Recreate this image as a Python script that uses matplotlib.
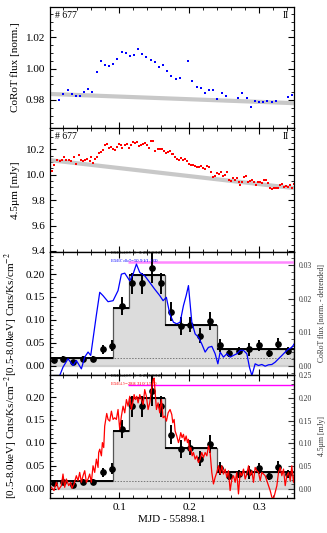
import matplotlib
matplotlib.use('Agg')
import matplotlib.pyplot as plt
from matplotlib.ticker import MultipleLocator, AutoMinorLocator

plt.rcParams['font.family'] = ['Liberation Serif', 'DejaVu Serif']
plt.rcParams['mathtext.fontset'] = 'stix'

# --- CoRoT optical light curve (panel 1) ---
corot_t = [0.0136, 0.0198, 0.0260, 0.0317, 0.0379, 0.0436, 0.0499, 0.0556, 0.0613, 0.0675,
           0.0733, 0.0795, 0.0852, 0.0914, 0.0971, 0.1033, 0.1091, 0.1153, 0.1210, 0.1272,
           0.1330, 0.1387, 0.1449, 0.1506, 0.1568, 0.1626, 0.1688, 0.1745, 0.1807, 0.1869,
           0.1989, 0.2046, 0.2108, 0.2165, 0.2223, 0.2285, 0.2347, 0.2404, 0.2466, 0.2523,
           0.2700, 0.2762, 0.2824, 0.2882, 0.2944, 0.3001, 0.3063, 0.3120, 0.3178, 0.3240,
           0.3416, 0.3478]
corot_flux = [0.9800, 0.9836, 0.9862, 0.9840, 0.9826, 0.9823, 0.9853, 0.9872, 0.9851, 0.9977,
              1.0051, 1.0026, 1.0017, 1.0028, 1.0060, 1.0104, 1.0102, 1.0080, 1.0087, 1.0128,
              1.0094, 1.0072, 1.0055, 1.0040, 1.0013, 1.0026, 0.9985, 0.9953, 0.9936, 0.9938,
              1.0051, 0.9919, 0.9885, 0.9877, 0.9843, 0.9862, 0.9862, 0.9806, 0.9843, 0.9828,
              0.9815, 0.9847, 0.9809, 0.9753, 0.9796, 0.9789, 0.9785, 0.9791, 0.9787, 0.9791,
              0.9821, 0.9834]
corot_trend_t = [0.0007, 0.35]
corot_trend = [0.9838, 0.9779]

# --- Spitzer 4.5 micron light curve (panel 2) ---
irac_t = [0.0002, 0.0036, 0.0064, 0.0112, 0.0146, 0.0179, 0.0208, 0.0241, 0.0275, 0.0313,
          0.0351, 0.0384, 0.0418, 0.0447, 0.0480, 0.0513, 0.0542, 0.0575, 0.0590, 0.0623,
          0.0647, 0.0685, 0.0704, 0.0733, 0.0766, 0.0790, 0.0819, 0.0848, 0.0876, 0.0905,
          0.0934, 0.0962, 0.0991, 0.1020, 0.1039, 0.1077, 0.1106, 0.1134, 0.1163, 0.1192,
          0.1220, 0.1249, 0.1278, 0.1306, 0.1335, 0.1363, 0.1392, 0.1421, 0.1459, 0.1488,
          0.1516, 0.1554, 0.1583, 0.1612, 0.1640, 0.1669, 0.1698, 0.1726, 0.1755,
          0.1765, 0.1793, 0.1822, 0.1851, 0.1879, 0.1908, 0.1937, 0.1965, 0.1994,
          0.2022, 0.2051, 0.2080, 0.2108, 0.2137, 0.2166, 0.2194, 0.2223, 0.2252, 0.2280,
          0.2309, 0.2338, 0.2366, 0.2395, 0.2424, 0.2452, 0.2481, 0.2510, 0.2538, 0.2567,
          0.2596, 0.2624, 0.2653, 0.2681, 0.2710, 0.2729, 0.2758, 0.2787, 0.2815, 0.2844,
          0.2872, 0.2901, 0.2930, 0.2958, 0.2987, 0.3016, 0.3044, 0.3073, 0.3102, 0.3130,
          0.3159, 0.3188, 0.3216, 0.3245, 0.3274, 0.3302, 0.3331, 0.3360, 0.3388, 0.3417,
          0.3446, 0.3474, 0.3503]
irac_flux = [10.049, 10.029, 10.073, 10.114, 10.106, 10.114, 10.137, 10.114, 10.114, 10.106,
             10.137, 10.088, 10.153, 10.119, 10.106, 10.114, 10.124, 10.106, 10.137, 10.093,
             10.127, 10.140, 10.168, 10.176, 10.197, 10.231, 10.246, 10.210, 10.215, 10.205,
             10.197, 10.215, 10.241, 10.231, 10.210, 10.236, 10.241, 10.210, 10.231, 10.256,
             10.249, 10.256, 10.223, 10.236, 10.246, 10.251, 10.231, 10.210, 10.267, 10.262,
             10.189, 10.205, 10.205, 10.199, 10.184, 10.174, 10.179, 10.184, 10.163,
             10.163, 10.140, 10.127, 10.119, 10.132, 10.114, 10.127, 10.106, 10.085,
             10.075, 10.080, 10.067, 10.060, 10.060, 10.070, 10.054, 10.049, 10.067, 10.060,
             10.023, 9.982, 9.992, 10.013, 10.003, 10.018, 9.987, 9.997, 10.018, 9.961,
             9.951, 9.971, 9.956, 9.977, 9.946, 9.920, 9.946, 9.982, 9.987, 9.940,
             9.951, 9.961, 9.946, 9.920, 9.946, 9.940, 9.935, 9.961, 9.956, 9.935,
             9.899, 9.889, 9.894, 9.899, 9.894, 9.920, 9.930, 9.904, 9.909, 9.904,
             9.920, 9.899, 9.925]
irac_trend_t = [0.0007, 0.35]
irac_trend = [10.115, 9.895]

# --- X-ray light curve (panels 3, 4) ---
xray_t = [0.0064, 0.0198, 0.0341, 0.0484, 0.0623, 0.0761, 0.0900, 0.1043, 0.1181, 0.1320,
          0.1463, 0.1602, 0.1740, 0.1879, 0.2017, 0.2156, 0.2299, 0.2437, 0.2576, 0.2714,
          0.2853, 0.2996, 0.3135, 0.3273, 0.3412]
xray_rate = [0.0116, 0.0153, 0.0073, 0.0153, 0.0153, 0.0364, 0.0436, 0.131, 0.180, 0.180,
             0.213, 0.180, 0.118, 0.087, 0.090, 0.066, 0.0975, 0.0444, 0.0284, 0.0327,
             0.0356, 0.0444, 0.0284, 0.048, 0.0327]
xray_err = [0.006, 0.006, 0.005, 0.006, 0.006, 0.010, 0.012, 0.020, 0.023, 0.023,
            0.032, 0.023, 0.021, 0.019, 0.017, 0.016, 0.020, 0.014, 0.009, 0.009,
            0.014, 0.012, 0.009, 0.012, 0.009]
block_edges = [0.0007, 0.0914, 0.1143, 0.1650, 0.2404, 0.35]
block_rates = [0.0167, 0.1265, 0.1970, 0.0887, 0.0356]
quiescent = 0.018
flare_level = 0.2265
flare_start = 0.112

# detrended CoRoT (panel 3, right axis)
corot_det_t = [0.0146, 0.0193, 0.0265, 0.0337, 0.0384, 0.0456, 0.0504, 0.0552, 0.0590, 0.0623,
               0.0670, 0.0719, 0.0766, 0.0838, 0.0910, 0.0981, 0.1029, 0.1077, 0.1149, 0.1196,
               0.1244, 0.1292, 0.1364, 0.1436, 0.1507, 0.1579, 0.1626, 0.1673, 0.1722,
               0.1774, 0.1822, 0.1870, 0.1917, 0.1956, 0.1989, 0.2037, 0.2085, 0.2132, 0.2180,
               0.2228, 0.2275, 0.2324, 0.2371, 0.2410, 0.2443, 0.2490, 0.2539, 0.2586, 0.2633,
               0.2682, 0.2729, 0.2776, 0.2825, 0.2862, 0.2897, 0.2944, 0.2991, 0.3040, 0.3087,
               0.3135, 0.3183, 0.3231, 0.3278, 0.3327, 0.3374, 0.3421, 0.3470, 0.3517]
corot_det = [-0.0029, -0.0004, 0.0021, 0.0001, 0.0016, -0.0009, 0.0026, 0.0041, 0.0031, 0.0080,
             0.0150, 0.0219, 0.0209, 0.0191, 0.0194, 0.0224, 0.0273, 0.0276, 0.0253, 0.0273,
             0.0303, 0.0278, 0.0268, 0.0248, 0.0228, 0.0209, 0.0194, 0.0204, 0.0154,
             0.0130, 0.0125, 0.0130, 0.0179, 0.0209, 0.0239, 0.0130, 0.0095, 0.0085, 0.0065,
             0.0041, 0.0055, 0.0058, 0.0036, 0.0006, 0.0041, 0.0026, 0.0036, 0.0026, 0.0031,
             0.0036, 0.0046, 0.0046, 0.0036, -0.0004, -0.0029, 0.0006, 0.0001, 0.0004, -0.0001,
             0.0003, 0.0004, 0.0011, 0.0021, 0.0031, 0.0041, 0.0050, 0.0055, 0.0070]

# detrended 4.5 micron (panel 4, right axis)
irac_det_t = [0.0026, 0.0064, 0.0098, 0.0131, 0.0170, 0.0193, 0.0217, 0.0241, 0.0275, 0.0303,
              0.0322, 0.0351, 0.0384, 0.0408, 0.0432, 0.0456, 0.0480, 0.0504, 0.0528, 0.0552,
              0.0575, 0.0599, 0.0623, 0.0647, 0.0671, 0.0695, 0.0704, 0.0719, 0.0743, 0.0757,
              0.0776, 0.0790, 0.0805, 0.0819, 0.0838, 0.0862, 0.0886, 0.0910, 0.0934, 0.0957,
              0.0981, 0.1005, 0.1029, 0.1053, 0.1077, 0.1101, 0.1125, 0.1149, 0.1172, 0.1196,
              0.1211, 0.1230, 0.1249, 0.1268, 0.1292, 0.1316, 0.1340, 0.1363, 0.1387, 0.1411,
              0.1435, 0.1459, 0.1483, 0.1497, 0.1516, 0.1531, 0.1554, 0.1578, 0.1602, 0.1626,
              0.1650, 0.1674, 0.1698,
              0.1726, 0.1750, 0.1765, 0.1784, 0.1798, 0.1822, 0.1846, 0.1860, 0.1879, 0.1898,
              0.1917, 0.1937, 0.1956, 0.1975, 0.1989, 0.2003, 0.2022, 0.2042, 0.2061, 0.2085,
              0.2108, 0.2132, 0.2156, 0.2180, 0.2204, 0.2228, 0.2252, 0.2276, 0.2299, 0.2323,
              0.2347, 0.2371, 0.2395, 0.2419, 0.2443, 0.2467, 0.2490, 0.2514, 0.2538, 0.2562,
              0.2586, 0.2610, 0.2634, 0.2658, 0.2681, 0.2705, 0.2729, 0.2753, 0.2777, 0.2801,
              0.2825, 0.2849, 0.2872, 0.2896, 0.2920, 0.2944, 0.2968, 0.2992, 0.3016, 0.3040,
              0.3063, 0.3087, 0.3111, 0.3135, 0.3159, 0.3183, 0.3207, 0.3231, 0.3255, 0.3278,
              0.3302, 0.3326, 0.3350, 0.3374, 0.3398, 0.3422, 0.3446, 0.3469, 0.3493, 0.3517]
irac_det = [0.0036, -0.0037, 0.0145, -0.0015, 0.0072, 0.0327, 0.0036, 0.0218, 0.0072, 0.0145,
            0.0014, 0.0109, 0.0290, 0.0181, 0.0363, 0.0145, 0.0290, 0.0400, 0.0145, 0.0218,
            0.0327, 0.0145, 0.0509, 0.0363, 0.0654, 0.0472, 0.0800, 0.0873, 0.0727, 0.1018,
            0.0909, 0.1382, 0.1528, 0.1659, 0.1528, 0.1491, 0.1710, 0.1528, 0.1564, 0.1528,
            0.1746, 0.1309, 0.1600, 0.1819, 0.1673, 0.1964, 0.1819, 0.2037, 0.1746, 0.1928,
            0.2074, 0.1964, 0.2037, 0.1892, 0.2074, 0.1964, 0.1855, 0.2183, 0.2037, 0.1746,
            0.1892, 0.2183, 0.2401, 0.2437, 0.2037, 0.1746, 0.1892, 0.1673, 0.1964, 0.1564,
            0.1600, 0.1491, 0.1673,
            0.1746, 0.1637, 0.1455, 0.1528, 0.1273, 0.1164, 0.1018, 0.1091, 0.1237, 0.1127,
            0.1200, 0.1055, 0.1164, 0.1018, 0.1091, 0.0836, 0.0909, 0.0727, 0.0800, 0.0654,
            0.0727, 0.0581, 0.0654, 0.0800, 0.0691, 0.0800, 0.0727, 0.0945, 0.0800, 0.0363,
            0.0109, 0.0254, 0.0363, 0.0509, 0.0327, 0.0509, 0.0327, 0.0436, 0.0254, 0.0400,
            -0.0037, 0.0218, 0.0290, 0.0145, 0.0363, -0.0110, 0.0363, 0.0290, 0.0436, 0.0218,
            0.0327, 0.0509, 0.0290, 0.0400, 0.0145, 0.0472, 0.0400, 0.0363, 0.0181, 0.0363,
            0.0327, 0.0290, 0.0181, 0.0072, -0.0037, -0.0183, -0.0219, -0.0074, 0.0072, 0.0363,
            0.0472, 0.0290, 0.0436, 0.0072, 0.0290, 0.0363, 0.0181, 0.0509, 0.0145, 0.0400]

XLIM = (0.0007, 0.35)
W, H = 327, 533


def style_axis(ax, right_ticks=True):
    ax.set_xlim(*XLIM)
    ax.xaxis.set_major_locator(MultipleLocator(0.1))
    ax.xaxis.set_minor_locator(MultipleLocator(0.02))
    ax.tick_params(which='both', direction='in', top=True, right=right_ticks, labelsize=8)
    ax.tick_params(which='major', length=4, width=0.8)
    ax.tick_params(which='minor', length=2, width=0.6)
    for s in ax.spines.values():
        s.set_linewidth(0.9)


def panel(top, bottom):
    return fig.add_axes([50 / W, 1 - bottom / H, 244 / W, (bottom - top) / H])


fig = plt.figure(figsize=(3.27, 5.33), dpi=100)

# panel 1
ax1 = panel(7, 128)
style_axis(ax1)
ax1.plot(corot_trend_t, corot_trend, color='#c8c8c8', lw=3, solid_capstyle='butt')
ax1.plot(corot_t, corot_flux, 's', color='blue', ms=2.0, mew=0)
ax1.set_ylim(0.962, 1.0395)
ax1.yaxis.set_major_locator(MultipleLocator(0.02))
ax1.yaxis.set_minor_locator(MultipleLocator(0.005))
ax1.set_xticklabels([])
ax1.set_ylabel('CoRoT flux [norm.]', fontsize=8)
ax1.text(0.02, 0.97, '# 677', transform=ax1.transAxes, fontsize=7, va='top', ha='left')
ax1.text(0.98, 0.97, 'II', transform=ax1.transAxes, fontsize=7, va='top', ha='right')

# panel 2
ax2 = panel(128, 252)
style_axis(ax2)
ax2.plot(irac_trend_t, irac_trend, color='#c8c8c8', lw=3, solid_capstyle='butt')
ax2.plot(irac_t, irac_flux, 's', color='red', ms=1.9, mew=0)
ax2.set_ylim(9.392, 10.368)
ax2.yaxis.set_major_locator(MultipleLocator(0.2))
ax2.yaxis.set_minor_locator(MultipleLocator(0.05))
ax2.set_xticklabels([])
ax2.set_ylabel('4.5µm [mJy]', fontsize=8)
ax2.text(0.02, 0.97, '# 677', transform=ax2.transAxes, fontsize=7, va='top', ha='left')
ax2.text(0.98, 0.97, 'II', transform=ax2.transAxes, fontsize=7, va='top', ha='right')


def xray_panel(ax, line_t, line_v, line_color, right_lim, right_major, right_label,
               ratio_text, ratio_color, flare_color, flare_lw):
    style_axis(ax, right_ticks=False)
    ax.set_ylim(-0.02, 0.248)
    ax.yaxis.set_major_locator(MultipleLocator(0.05))
    ax.yaxis.set_minor_locator(MultipleLocator(0.01))
    ax.axhline(0.0, color='#cccccc', lw=1.6, zorder=1)
    ax.fill_between(block_edges, block_rates + [block_rates[-1]], 0, step='post',
                    facecolor='#dcdcdc', edgecolor='none', zorder=0)
    ax.stairs(block_rates, block_edges, color='#555555', lw=0.9, zorder=2)
    ax.hlines(block_rates, block_edges[:-1], block_edges[1:], color='black', lw=1.4, zorder=3)
    ax.axhline(quiescent, color='#777777', lw=0.7, ls=(0, (1.5, 1.5)), zorder=2)
    ax.hlines(flare_level, flare_start, XLIM[1], color=flare_color, lw=flare_lw, zorder=3)
    ax.errorbar(xray_t, xray_rate, yerr=xray_err, fmt='o', color='black', ms=3.8,
                elinewidth=1.4, capsize=0, zorder=5)
    ax.text(0.087, 0.243, r'E$_X$/L$_{\rm bol,0.5-8}$=3.253/0.327', fontsize=3.6,
            color='black', va='center', ha='left', zorder=6)
    ax.text(0.087, 0.228, ratio_text, fontsize=3.6, color=ratio_color,
            va='center', ha='left', zorder=6)
    ax.set_ylabel('[0.5-8.0keV] Cnts/Ks/cm$^{-2}$', fontsize=8)

    axr = ax.twinx()
    axr.plot(line_t, line_v, color=line_color, lw=0.9)
    axr.set_xlim(*XLIM)
    axr.set_ylim(*right_lim)
    axr.yaxis.set_major_locator(MultipleLocator(right_major))
    axr.yaxis.set_minor_locator(AutoMinorLocator(5))
    axr.tick_params(which='both', direction='in', labelsize=5.5, colors='#333333')
    axr.tick_params(which='major', length=4)
    axr.tick_params(which='minor', length=2)
    axr.set_ylabel(right_label, fontsize=5.5, color='#333333')
    return axr


ax3 = panel(252, 375)
xray_panel(ax3, corot_det_t, corot_det, 'blue', (-0.00273, 0.0339), 0.01,
           'CoRoT flux [norm. - detrended]', r'E$_X$/E$_{\rm CoRoT}$=50.91/1.100',
           'blue', '#ff88ff', 1.8)
ax3.set_xticklabels([])

ax4 = panel(375, 498)
xray_panel(ax4, irac_det_t, irac_det, 'red', (-0.02, 0.2505), 0.05,
           '4.5µm [mJy]', r'E$_X$/E$_{4.5}$=288.310/1.570', 'red', 'magenta', 1.0)
ax4.set_xlabel('MJD - 55898.1', fontsize=8, labelpad=2)

fig.savefig('out.png', dpi=100)
